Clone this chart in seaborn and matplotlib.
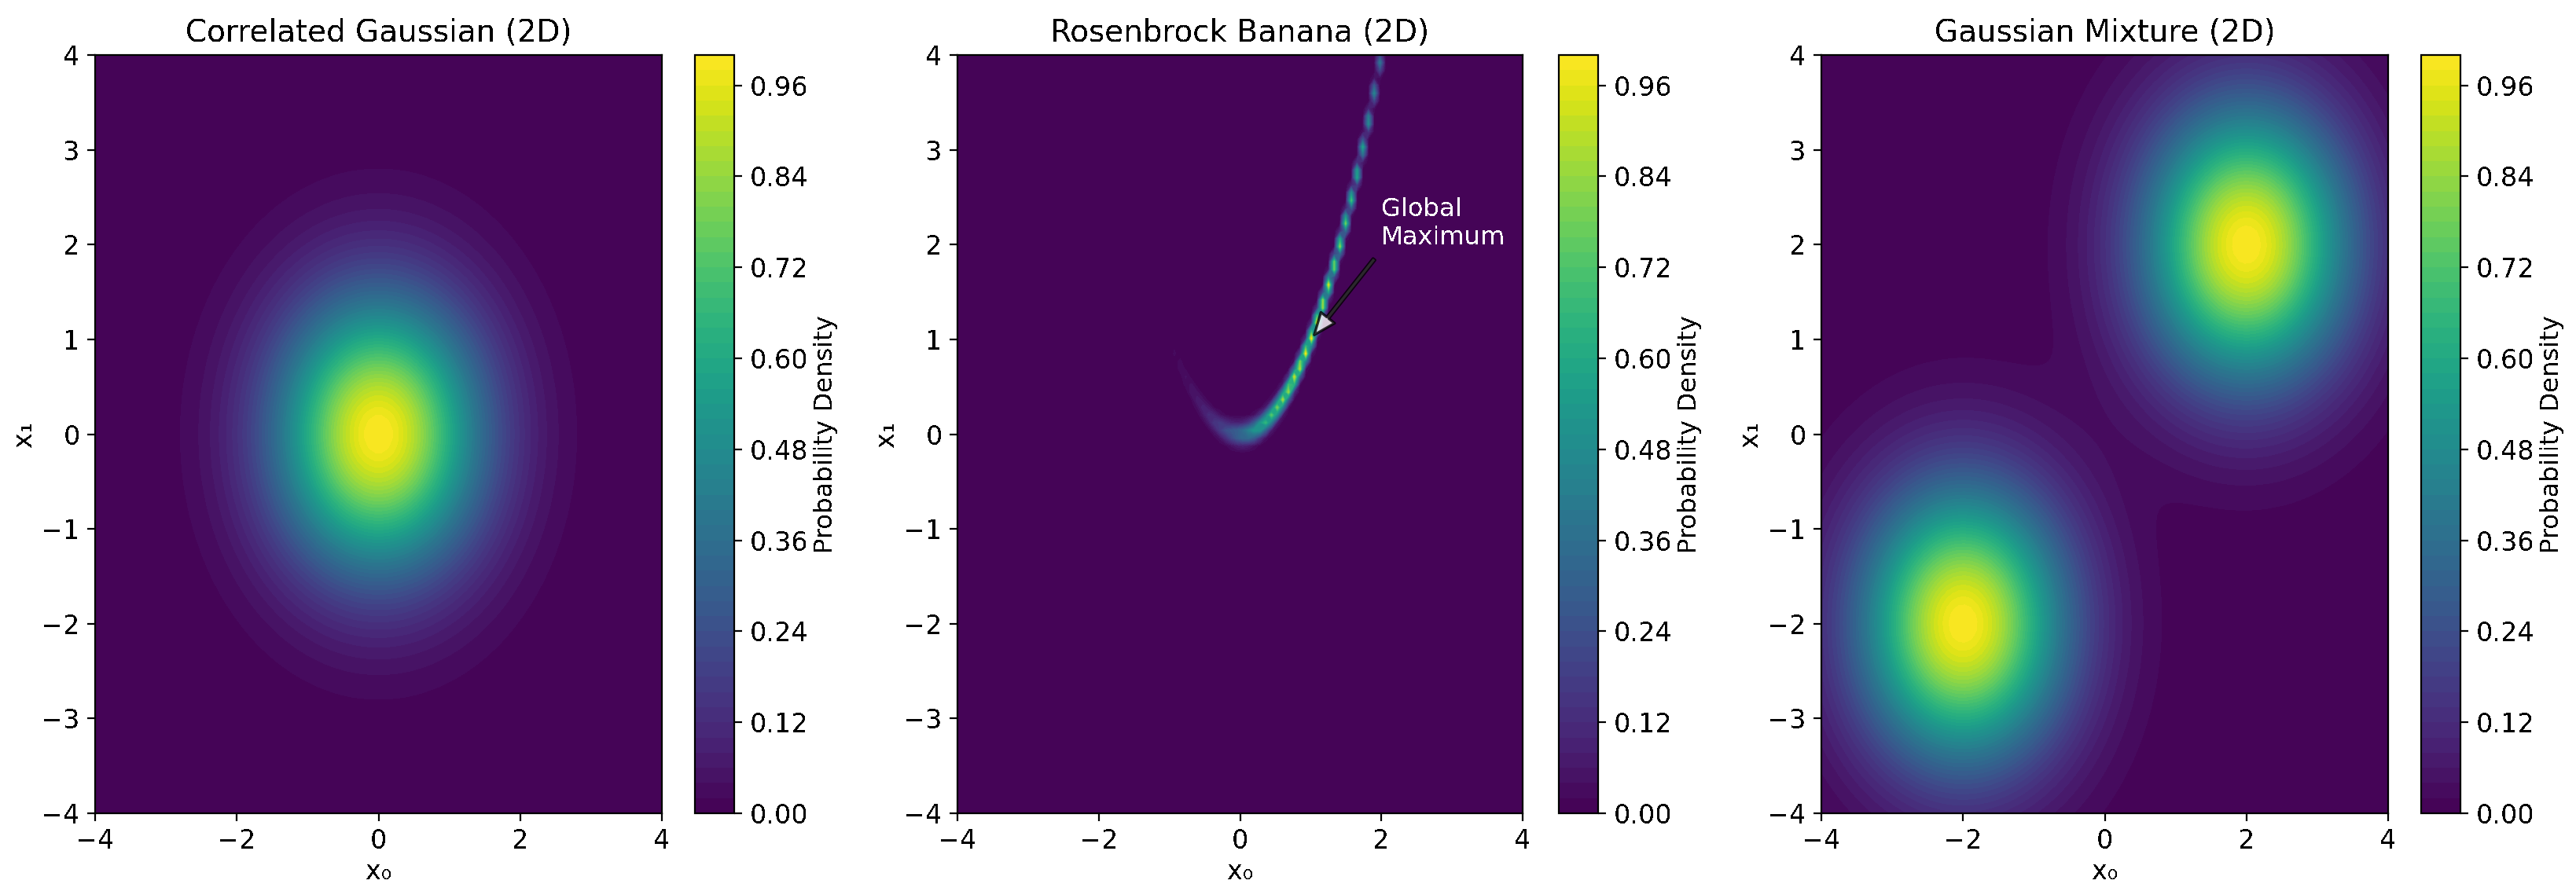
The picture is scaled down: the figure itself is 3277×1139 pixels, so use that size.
import numpy as np
import matplotlib
matplotlib.use("Agg")
import matplotlib.pyplot as plt
import seaborn as sns

# Titles and labels
titles = ["Correlated Gaussian (2D)", "Rosenbrock Banana (2D)", "Gaussian Mixture (2D)"]
x_label = "x₀"
y_label = "x₁"
cbar_label = "Probability Density"
annotation_text = "Global\nMaximum"

# Parameters of the plotted densities
grid_range = [-4, 4]
grid_points = 100
contour_levels = 50
gaussian_center = [0.0, 0.0]
gaussian_sigma = [1.0, 1.0]
rosen_a = 1.0
rosen_b = 100.0
mixture_centers = [[-2.0, -2.0], [2.0, 2.0]]
mixture_sigma = 1.0
peak_location = [1.0, 1.0]
annotation_location = [2.0, 2.0]

sns.set_style("ticks", {
    "axes.edgecolor": "black", "text.color": "black", "axes.labelcolor": "black",
    "xtick.color": "black", "ytick.color": "black",
    "xtick.direction": "out", "ytick.direction": "out",
})
plt.rcParams.update({"font.family": ["DejaVu Sans"], "font.size": 12,
                     "axes.linewidth": 0.8, "text.antialiased": False})

axis = np.linspace(grid_range[0], grid_range[1], grid_points)
X, Y = np.meshgrid(axis, axis)

Z_gauss = np.exp(-0.5 * (((X - gaussian_center[0]) / gaussian_sigma[0]) ** 2
                         + ((Y - gaussian_center[1]) / gaussian_sigma[1]) ** 2))
Z_rosen = np.exp(-((rosen_a - X) ** 2 + rosen_b * (Y - X ** 2) ** 2))
Z_mix = sum(np.exp(-((X - c[0]) ** 2 + (Y - c[1]) ** 2) / (2 * mixture_sigma ** 2))
            for c in mixture_centers)
fields = [Z_gauss, Z_rosen, Z_mix]

W, H = 3277, 1139
fig = plt.figure(figsize=(W / 200, H / 200), dpi=200)
cmap = sns.color_palette("viridis", as_cmap=True)

ax_px = [(121, 842), (1218, 1937), (2317, 3038)]
cb_px = [(884, 934), (1983, 2033), (3080, 3130)]
top, bottom = 70, 1035

for i, Z in enumerate(fields):
    ax = fig.add_axes([ax_px[i][0] / W, 1 - bottom / H,
                       (ax_px[i][1] - ax_px[i][0]) / W, (bottom - top) / H])
    cax = fig.add_axes([cb_px[i][0] / W, 1 - bottom / H,
                        (cb_px[i][1] - cb_px[i][0]) / W, (bottom - top) / H])
    cf = ax.contourf(X, Y, Z, levels=contour_levels, cmap=cmap)
    cb = fig.colorbar(cf, cax=cax)
    cb.set_label(cbar_label, fontsize=11.6, labelpad=2.5)
    cb.ax.tick_params(labelsize=12, length=3.5, width=0.8)
    ax.set_title(titles[i], fontsize=14, pad=6)
    ax.set_xlabel(x_label, fontsize=12, labelpad=2)
    ax.set_ylabel(y_label, fontsize=12, labelpad=2)
    ax.tick_params(labelsize=12, length=3.5, width=0.8)
    ax.set_xlim(grid_range)
    ax.set_ylim(grid_range)
    if i == 1:
        ax.annotate(annotation_text, xy=peak_location, xytext=annotation_location,
                    color="white", fontsize=11.6,
                    arrowprops=dict(facecolor="white", edgecolor="black", linewidth=1.2,
                                    width=1.2, headwidth=8, headlength=10,
                                    shrink=0.05, alpha=0.8))

fig.savefig("out.png", dpi=200)
